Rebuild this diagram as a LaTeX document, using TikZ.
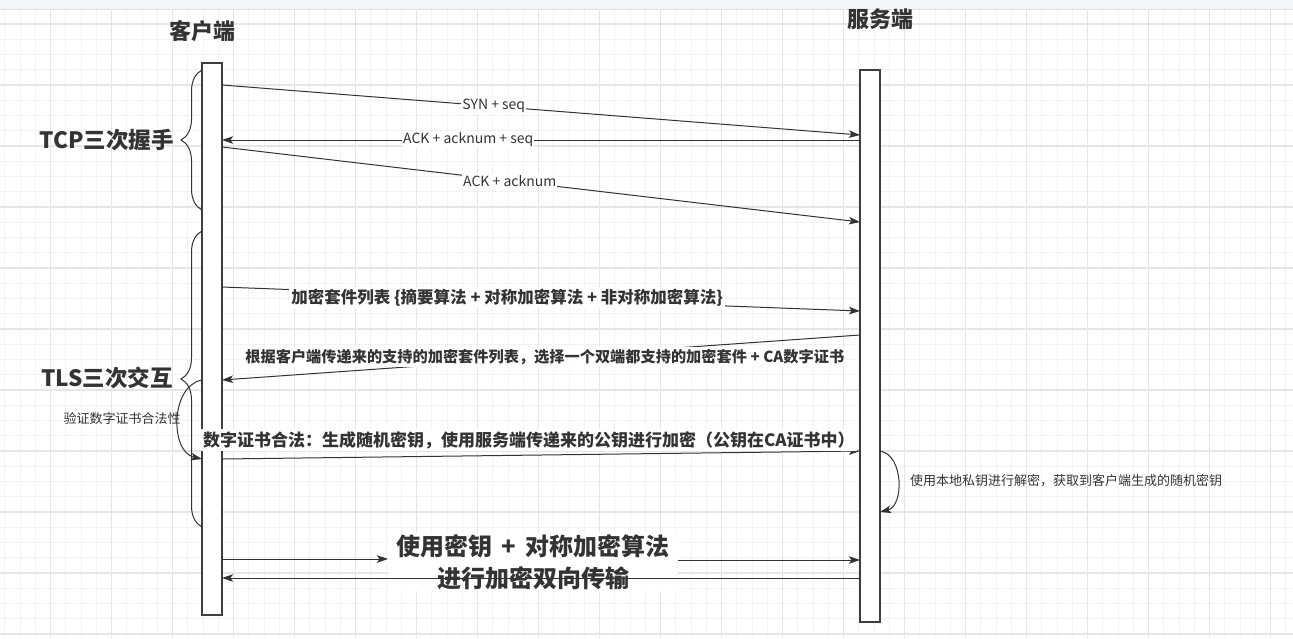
\documentclass[tikz,border=0pt]{standalone}
\usepackage{fontspec}
\setmainfont{Noto Sans CJK SC}
\usetikzlibrary{arrows.meta,decorations.pathreplacing}
\definecolor{ink}{HTML}{333333}
\definecolor{frame}{HTML}{3B3E43}
\definecolor{gridminor}{HTML}{F3F3F3}
\definecolor{gridmajor}{HTML}{E6E6E6}
\definecolor{barfill}{HTML}{F5F6F8}
\definecolor{barline}{HTML}{DFE0E3}

\begin{document}
\begin{tikzpicture}[x=1pt,y=-1pt,
  lifeline/.style={draw=frame,line width=1.2pt,fill=white,minimum width=20pt,minimum height=552pt,inner sep=0pt},
  msg/.style={draw=ink,line width=1pt,-{Stealth[length=11pt,width=7.5pt,inset=2.5pt]}},
  lbl/.style={fill=white,text=ink,font=\fontsize{14}{16}\selectfont,inner xsep=1pt,inner ysep=1pt},
  midlbl/.style={fill=white,text=ink,font=\bfseries\fontsize{16.5}{19}\selectfont,inner xsep=2pt,inner ysep=2pt},
  title/.style={text=ink,font=\bfseries\fontsize{22}{26}\selectfont},
  phase/.style={text=ink,font=\bfseries\fontsize{22.5}{26}\selectfont,anchor=east,inner sep=0pt},
  note/.style={text=ink,font=\fontsize{13}{15}\selectfont,inner sep=0pt},
  bracket/.style={draw=ink,line width=1pt,decorate,decoration={brace,amplitude=21pt}},
]
\useasboundingbox (0,0) rectangle (1293,638);

% background grid
\foreach \i in {0,...,84}
  \draw[gridminor,line width=1pt] ({4.95+15.25*\i},9) -- ({4.95+15.25*\i},638);
\foreach \i in {1,...,41}
  \draw[gridminor,line width=1pt] (0,{8.75+15.25*\i}) -- (1293,{8.75+15.25*\i});
\foreach \i in {0,...,20}
  \draw[gridmajor,line width=1.2pt] ({50.7+61*\i},9) -- ({50.7+61*\i},638);
\foreach \i in {0,...,10}
  \draw[gridmajor,line width=1.2pt] (0,{24+61*\i}) -- (1293,{24+61*\i});

% toolbar strip
\fill[barfill] (0,0) rectangle (1293,9);
\draw[barline] (0,9) -- (1293,9);

% participants
\node[title] (clientT) at (202.5,31.5) {客户端};
\node[title] (serverT) at (880,19) {服务端};
\node[lifeline] (client) at (212,339) {};
\node[lifeline] (server) at (870,346) {};

% message end points on the lifelines
\coordinate (c1) at (222,85);   \coordinate (s1) at (860,135);
\coordinate (s2) at (860,140);  \coordinate (c2) at (222,140);
\coordinate (c3) at (222,147);  \coordinate (s3) at (860,222);
\coordinate (c4) at (222,287);  \coordinate (s4) at (860,311);
\coordinate (s5) at (860,335);  \coordinate (c5) at (222,380);
\coordinate (c6) at (222,459);  \coordinate (s6) at (860,451);
\coordinate (c7) at (222,559);  \coordinate (s7) at (860,560);
\coordinate (s8) at (860,578);  \coordinate (c8) at (222,578);
\coordinate (cl1) at (202,380); \coordinate (cl2) at (202,459);
\coordinate (sl1) at (880,451); \coordinate (sl2) at (880,512);

% phase brackets
\draw[bracket] (202,210) -- (202,70);
\draw[bracket] (202,527) -- (202,231);
\node[phase] (tcp) at (174,140) {TCP三次握手};
\node[phase] (tls) at (173,378) {TLS三次交互};

% TCP handshake
\draw[msg] (c1) -- node[lbl,pos=.426] (m1) {SYN + seq} (s1);
\draw[msg] (s2) -- node[lbl,pos=.614] (m2) {ACK + acknum + seq} (c2);
\draw[msg] (c3) -- node[lbl,pos=.451] (m3) {ACK + acknum} (s3);

% TLS exchange
\draw[msg] (c4) -- node[midlbl,pos=.447] (m4) {加密套件列表 \{摘要算法 + 对称加密算法 + 非对称加密算法\}} (s4);
\draw[msg] (s5) -- node[midlbl,font=\bfseries\fontsize{15.2}{18}\selectfont,pos=.494] (m5) {根据客户端传递来的支持的加密套件列表，选择一个双端都支持的加密套件 + CA数字证书} (c5);
\draw[msg] (cl1) .. controls (170,386) and (170,452) .. (cl2);
\node[note] (verify) at (122,419) {验证数字证书合法性};
\draw[msg] (c6) -- node[midlbl,font=\bfseries\fontsize{17}{20}\selectfont,pos=.481,above=4pt] (m6) {数字证书合法：生成随机密钥，使用服务端传递来的公钥进行加密（公钥在CA证书中）} (s6);
\draw[msg] (sl1) .. controls (904,455) and (904,506) .. (sl2);
\node[note,anchor=west] (decrypt) at (910,481) {使用本地私钥进行解密，获取到客户端生成的随机密钥};

% encrypted data transfer
\node[fill=white,text=ink,align=center,font=\bfseries\fontsize{24}{32}\selectfont,inner xsep=8pt,inner ysep=1pt] (bulk) at (533,562) {使用密钥 \,+\, 对称加密算法\\进行加密双向传输};
\draw[msg] (c7) -- (bulk.west |- c7);
\draw[msg] (bulk.east |- s7) -- (s7);
\draw[msg] (s8) -- (c8);
\end{tikzpicture}
\end{document}
